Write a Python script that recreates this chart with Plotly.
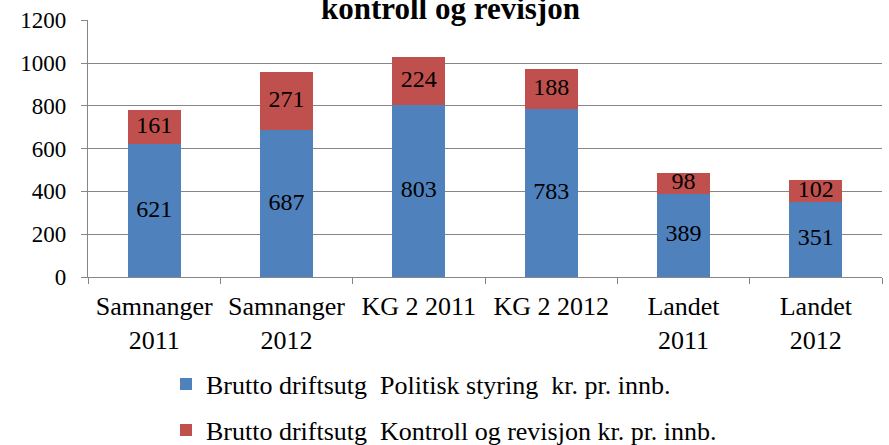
import plotly.graph_objects as go

categories = ["Samnanger<br>2011", "Samnanger<br>2012", "KG 2 2011", "KG 2 2012", "Landet<br>2011", "Landet<br>2012"]
politisk = [621, 687, 803, 783, 389, 351]
kontroll = [161, 271, 224, 188, 98, 102]
y_ticks = [0, 200, 400, 600, 800, 1000, 1200]
name_politisk = "Brutto driftsutg  Politisk styring  kr. pr. innb."
name_kontroll = "Brutto driftsutg  Kontroll og revisjon kr. pr. innb."
title_text = "kontroll og revisjon"

BLUE = "#4F81BD"
RED = "#C0504D"
FONT = "Times New Roman, Liberation Serif, Tinos, Times, DejaVu Serif, serif"

fig = go.Figure()
fig.add_trace(go.Bar(x=categories, y=politisk, name=name_politisk, marker_color=BLUE,
                     marker_line_width=0, legend="legend"))
fig.add_trace(go.Bar(x=categories, y=kontroll, name=name_kontroll, marker_color=RED,
                     marker_line_width=0, legend="legend2"))

fig.add_trace(go.Scatter(x=categories, y=[v / 2 for v in politisk], text=[str(v) for v in politisk],
                         mode="text", textfont=dict(family=FONT, size=24, color="black"),
                         showlegend=False, hoverinfo="skip"))
fig.add_trace(go.Scatter(x=categories, y=[p + k / 2 for p, k in zip(politisk, kontroll)],
                         text=[str(v) for v in kontroll],
                         mode="text", textfont=dict(family=FONT, size=24, color="black"),
                         showlegend=False, hoverinfo="skip"))

fig.update_layout(
    barmode="stack",
    bargap=0.6,
    width=889, height=445,
    margin=dict(l=88, r=7, t=20, b=168, autoexpand=False),
    paper_bgcolor="white", plot_bgcolor="white",
    font=dict(family=FONT, size=25, color="black"),
    legend=dict(x=166 / 889, y=1 - 384 / 445, xref="container", yref="container",
                xanchor="left", yanchor="middle", font=dict(family=FONT, size=26),
                bgcolor="rgba(0,0,0,0)", itemwidth=30),
    legend2=dict(x=166 / 889, y=1 - 430 / 445, xref="container", yref="container",
                 xanchor="left", yanchor="middle", font=dict(family=FONT, size=26),
                 bgcolor="rgba(0,0,0,0)", itemwidth=30),
    annotations=[dict(text="<b>" + title_text + "</b>", x=(450 - 88) / 794, y=(277 - 9) / 257,
                      xref="paper", yref="paper", xanchor="center", yanchor="middle", showarrow=False,
                      font=dict(family=FONT, size=31, color="black"))],
)
fig.update_yaxes(range=[0, 1201], tickvals=y_ticks, showgrid=True, gridcolor="#868686", gridwidth=1.3,
                 showline=True, linecolor="#868686", linewidth=1.3, ticks="outside", ticklen=6,
                 tickcolor="#868686", tickfont=dict(family=FONT, size=23), zeroline=False,
                 ticklabelstandoff=10)
fig.update_xaxes(showline=True, linecolor="#868686", linewidth=1.3, ticks="outside", ticklen=6,
                 tickcolor="#868686", tickson="boundaries", tickfont=dict(family=FONT, size=26),
                 ticklabelstandoff=6)

fig.write_html("out.html", post_script="document.body.style.margin='0';",
               config={"displayModeBar": False})
